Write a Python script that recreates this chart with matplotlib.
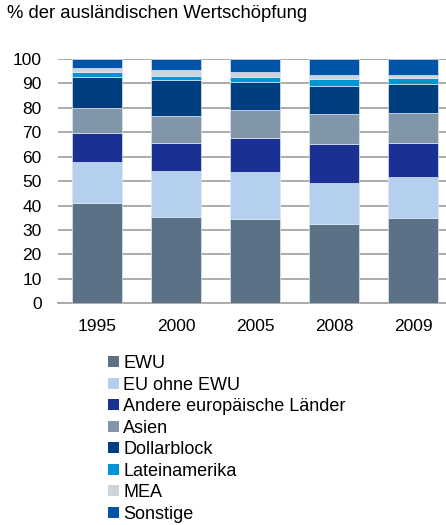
import numpy as np
import matplotlib.pyplot as plt
from matplotlib.patches import Patch

plt.rcParams['font.family'] = ['Liberation Sans', 'DejaVu Sans']

# reading values off the reference chart (shares in %)
years = ["1995", "2000", "2005", "2008", "2009"]
series = ["EWU", "EU ohne EWU", "Andere europäische Länder", "Asien",
          "Dollarblock", "Lateinamerika", "MEA", "Sonstige"]

ewu = [40.9, 35.5, 34.5, 32.5, 35.1]
eu_ohne_ewu = [16.8, 18.8, 19.1, 16.9, 16.7]
andere_europa = [11.9, 11.5, 14.1, 15.7, 14.0]
asien = [10.5, 10.7, 11.6, 12.4, 12.1]
dollarblock = [12.7, 14.8, 11.4, 11.6, 12.0]
lateinamerika = [1.7, 1.9, 2.1, 2.6, 2.3]
mea = [1.8, 2.3, 1.9, 1.6, 1.4]
sonstige = [3.7, 4.5, 5.3, 6.7, 6.4]

colors = ["#5b7186", "#b4d0ee", "#1b3093", "#8296aa",
          "#003f7f", "#0096d6", "#ccd5dd", "#0055a9"]

values = [ewu, eu_ohne_ewu, andere_europa, asien,
          dollarblock, lateinamerika, mea, sonstige]

fig = plt.figure(figsize=(4.46, 5.25), dpi=100)
ax = fig.add_axes([57.7 / 446, 1 - 303.3 / 525, (446 - 57.7) / 446, (303.3 - 59) / 525])

x = np.arange(len(years))
bottom = np.zeros(len(years))
for vals, col in zip(values, colors):
    ax.bar(x, vals, bottom=bottom, width=0.63, color=col,
           edgecolor="#dde6ef", linewidth=0.5, zorder=3)
    bottom += np.array(vals)

ax.set_ylim(0, 100)
ax.set_xlim(-0.50, -0.50 + (446 - 57.7) / 79)
ax.set_yticks(np.arange(0, 101, 10))
ax.set_xticks(x)
ax.set_xticklabels(years)
ax.yaxis.grid(True, color="#a6a6a6", linewidth=1.3, zorder=0)
ax.set_axisbelow(True)
for s in ["top", "right", "left"]:
    ax.spines[s].set_visible(False)
ax.spines["bottom"].set_color("#a6a6a6")
ax.spines["bottom"].set_linewidth(1.3)
ax.tick_params(axis="y", length=0, labelsize=12.5, pad=11.5)
ax.tick_params(axis="x", length=0, labelsize=12.5, pad=11)

fig.text(7 / 446, 1 - 14 / 525, "% der ausländischen Wertschöpfung",
         fontsize=13.3, va="center", ha="left")

handles = [Patch(facecolor=c, edgecolor="none") for c in colors]
fig.legend(handles, series, loc="upper left", bbox_to_anchor=(108 / 446, 1 - 355 / 525),
           frameon=False, fontsize=13, handlelength=0.6, handleheight=0.55,
           handletextpad=0.25, labelspacing=0.25, borderaxespad=0, borderpad=0)

fig.savefig("out.png", dpi=100)
